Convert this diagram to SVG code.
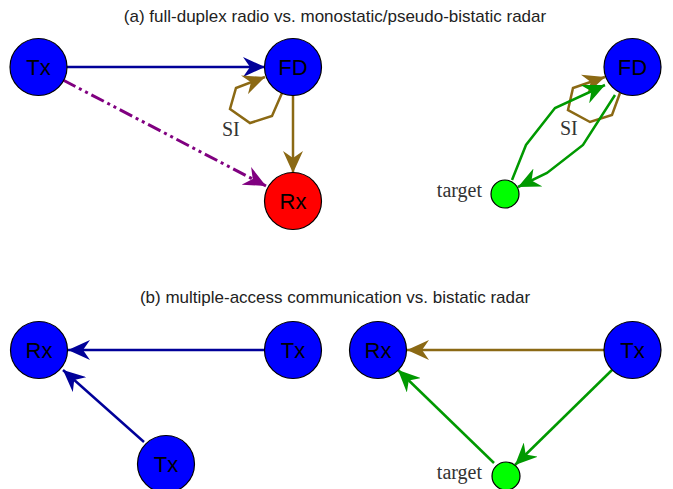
<svg xmlns="http://www.w3.org/2000/svg" width="673" height="489" viewBox="0 0 673 489">
<defs>
<style>
.node{stroke:#000;stroke-width:1.2}
.blue{fill:#0000ff}
.red{fill:#ff0000}
.lime{fill:#00ff00}
.lbl{font-family:"Liberation Sans",Arial,sans-serif;font-size:22px;text-anchor:middle;fill:#000}
.title{font-family:"Liberation Sans",Arial,sans-serif;font-size:17px;text-anchor:middle;fill:#222}
.serif{font-family:"Liberation Serif","Times New Roman",serif;font-size:20px;fill:#333}
.e{fill:none;stroke-width:2.5;stroke-linejoin:miter}
.navy{stroke:#000099}
.brown{stroke:#8b6914}
.green{stroke:#009900}
.purple{stroke:#800080;stroke-width:3;stroke-dasharray:14 4 3 4 3 4}
</style>
<marker id="aNavy" markerUnits="userSpaceOnUse" viewBox="0 0 22 20" markerWidth="22" markerHeight="20" refX="22" refY="10" orient="auto"><path d="M22,10 L0,0 L7,10 L0,20 z" fill="#000099"/></marker>
<marker id="aBrown" markerUnits="userSpaceOnUse" viewBox="0 0 22 20" markerWidth="22" markerHeight="20" refX="22" refY="10" orient="auto"><path d="M22,10 L0,0 L7,10 L0,20 z" fill="#8b6914"/></marker>
<marker id="aGreen" markerUnits="userSpaceOnUse" viewBox="0 0 22 20" markerWidth="22" markerHeight="20" refX="22" refY="10" orient="auto"><path d="M22,10 L0,0 L7,10 L0,20 z" fill="#009900"/></marker>
<marker id="aPurple" markerUnits="userSpaceOnUse" viewBox="0 0 22 20" markerWidth="22" markerHeight="20" refX="22" refY="10" orient="auto"><path d="M22,10 L0,0 L7,10 L0,20 z" fill="#800080"/></marker>
</defs>
<rect width="673" height="489" fill="#fff"/>
<text class="title" x="335" y="22">(a) full-duplex radio vs. monostatic/pseudo-bistatic radar</text>
<text class="title" x="335" y="303">(b) multiple-access communication vs. bistatic radar</text>

<g id="connectors">
<path class="e navy" d="M67,67 L265,67" marker-end="url(#aNavy)"/>
<path class="e purple" d="M63,80 L266,186" marker-end="url(#aPurple)"/>
<path class="e brown" d="M293,95 L293,173" marker-end="url(#aBrown)"/>
<path class="e brown" d="M282,93 L272,116 L250,123 L230,109 L236,88 L265,77" marker-end="url(#aBrown)"/>
<path class="e brown" d="M620,93 L612,115 L590,122 L568,110 L573,88 L605,77" marker-end="url(#aBrown)"/>
<path class="e green" d="M512,180 L526,145 L555,108 L605,85" marker-end="url(#aGreen)"/>
<path class="e green" d="M615,95 L583,145 L547,173 L518,187" marker-end="url(#aGreen)"/>
<path class="e navy" d="M265,350 L68,350" marker-end="url(#aNavy)"/>
<path class="e navy" d="M144,442 L63,370" marker-end="url(#aNavy)"/>
<path class="e brown" d="M604,350 L407,350" marker-end="url(#aBrown)"/>
<path class="e green" d="M612,370 L515,465" marker-end="url(#aGreen)"/>
<path class="e green" d="M494,463 L398,370" marker-end="url(#aGreen)"/>
</g>

<text class="serif" x="222" y="136">SI</text>
<text class="serif" x="560" y="135">SI</text>

<g id="a-tx"><circle class="node blue" cx="38.5" cy="67" r="28.5"/><text class="lbl" x="38.5" y="75">Tx</text></g>
<g id="a-fd"><circle class="node blue" cx="293" cy="67" r="28.5"/><text class="lbl" x="293" y="75">FD</text></g>
<g id="a-rx"><circle class="node red" cx="293" cy="201" r="28.5"/><text class="lbl" x="293" y="209">Rx</text></g>
<g id="a-fd2"><circle class="node blue" cx="632.5" cy="67" r="28.5"/><text class="lbl" x="632.5" y="75">FD</text></g>
<g id="a-target"><circle class="node lime" cx="505" cy="194" r="14"/><text class="serif" x="482" y="197" text-anchor="end">target</text></g>

<g id="b-rx"><circle class="node blue" cx="39" cy="350" r="28.5"/><text class="lbl" x="39" y="358">Rx</text></g>
<g id="b-tx1"><circle class="node blue" cx="293" cy="350" r="28.5"/><text class="lbl" x="293" y="358">Tx</text></g>
<g id="b-tx2"><circle class="node blue" cx="166" cy="464" r="28.5"/><text class="lbl" x="166" y="472">Tx</text></g>
<g id="b-rx2"><circle class="node blue" cx="378" cy="350" r="28.5"/><text class="lbl" x="378" y="358">Rx</text></g>
<g id="b-tx3"><circle class="node blue" cx="632.5" cy="350" r="28.5"/><text class="lbl" x="632.5" y="358">Tx</text></g>
<g id="b-target"><circle class="node lime" cx="506" cy="476" r="14"/><text class="serif" x="482" y="479" text-anchor="end">target</text></g>
</svg>
